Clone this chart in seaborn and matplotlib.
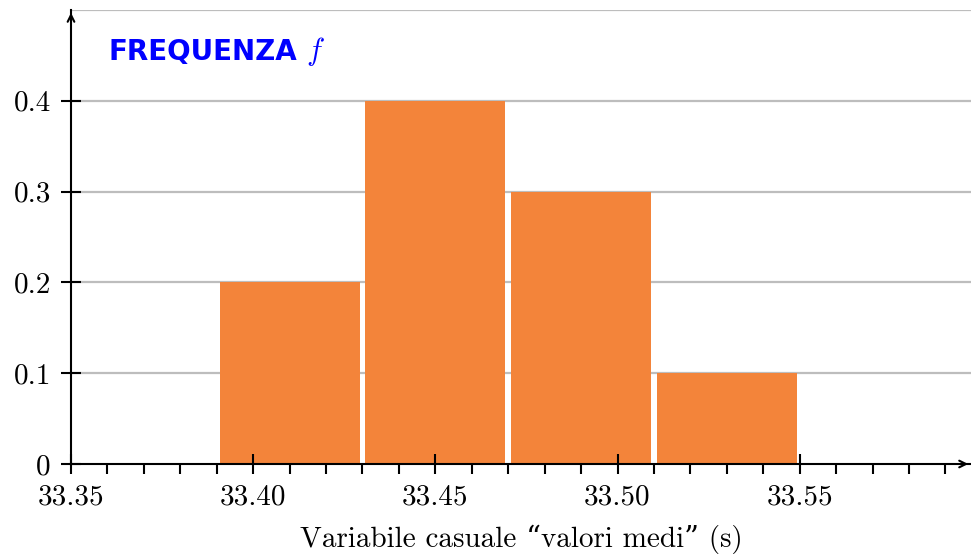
import matplotlib
matplotlib.use("Agg")
import matplotlib.pyplot as plt
import seaborn as sns
from matplotlib.ticker import MultipleLocator, FixedLocator

# Data
class_centers = [33.41, 33.45, 33.49, 33.53]
frequencies = [0.2, 0.4, 0.3, 0.1]
bin_edges = [33.39, 33.43, 33.47, 33.51, 33.55]
x_ticks = [33.35, 33.40, 33.45, 33.50, 33.55]
x_tick_labels = ["33.35", "33.40", "33.45", "33.50", "33.55"]
y_ticks = [0, 0.1, 0.2, 0.3, 0.4]
y_tick_labels = ["0", "0.1", "0.2", "0.3", "0.4"]
grid_levels = [0.1, 0.2, 0.3, 0.4, 0.5]

sns.set_style("white")
plt.rcParams['font.family'] = ['cmr10', 'DejaVu Serif']
plt.rcParams['mathtext.fontset'] = 'cm'
plt.rcParams['axes.unicode_minus'] = False
plt.rcParams['text.color'] = 'black'
plt.rcParams['axes.labelcolor'] = 'black'
plt.rcParams['xtick.color'] = 'black'
plt.rcParams['ytick.color'] = 'black'

fig = plt.figure(figsize=(9.71, 5.55), dpi=100)
ax = fig.add_axes([71/971, 91/555, 1 - 71/971, 454/555])

for g in grid_levels:
    ax.axhline(g, color="#bdbdbd", lw=1.6, zorder=0)

sns.histplot(x=class_centers, weights=frequencies, bins=bin_edges, shrink=0.96,
             color="#F3843A", alpha=1, linewidth=0, ax=ax, zorder=1)
ax.set_axisbelow(False)

ax.set_xlim(33.35, 33.597)
ax.set_ylim(0, 0.5)

ax.xaxis.set_major_locator(FixedLocator(x_ticks))
ax.set_xticklabels(x_tick_labels)
ax.xaxis.set_minor_locator(MultipleLocator(0.01))
ax.yaxis.set_major_locator(FixedLocator(y_ticks))
ax.set_yticklabels(y_tick_labels)

ax.tick_params(axis='both', which='major', direction='inout', length=15, width=1.5,
               color='black', labelcolor='black', labelsize=21, bottom=True, left=True)
ax.tick_params(axis='x', which='major', pad=7)
ax.tick_params(axis='y', which='major', pad=7)
ax.tick_params(axis='x', which='minor', direction='out', length=7, width=1.5,
               color='black', bottom=True)

for s in ['top', 'right']:
    ax.spines[s].set_visible(False)
for s in ['left', 'bottom']:
    ax.spines[s].set_color('black')
    ax.spines[s].set_linewidth(1.5)
    ax.spines[s].set_zorder(3)

# arrow heads
ax.annotate("", xy=(1.0, 0), xytext=(0.985, 0), xycoords='axes fraction',
            arrowprops=dict(arrowstyle='->', color='black', lw=1.5, mutation_scale=12),
            annotation_clip=False)
ax.annotate("", xy=(0, 1.0), xytext=(0, 0.97), xycoords='axes fraction',
            arrowprops=dict(arrowstyle='->', color='black', lw=1.5, mutation_scale=12),
            annotation_clip=False)

ax.set_xlabel("Variabile casuale \u201cvalori medi\u201d (s)", fontsize=21, labelpad=10,
              color='black')
ax.set_ylabel("")

ax.text(108/971, 1 - 52/555, "FREQUENZA", transform=fig.transFigure, color="#0000FF",
        fontsize=20, fontweight='bold', family=['DejaVu Sans'], va='center', ha='left')
ax.text(306/971, 1 - 52/555, "$f$", transform=fig.transFigure, color="#0000FF",
        fontsize=22, va='center', ha='left')

fig.savefig("out.png", dpi=100)
